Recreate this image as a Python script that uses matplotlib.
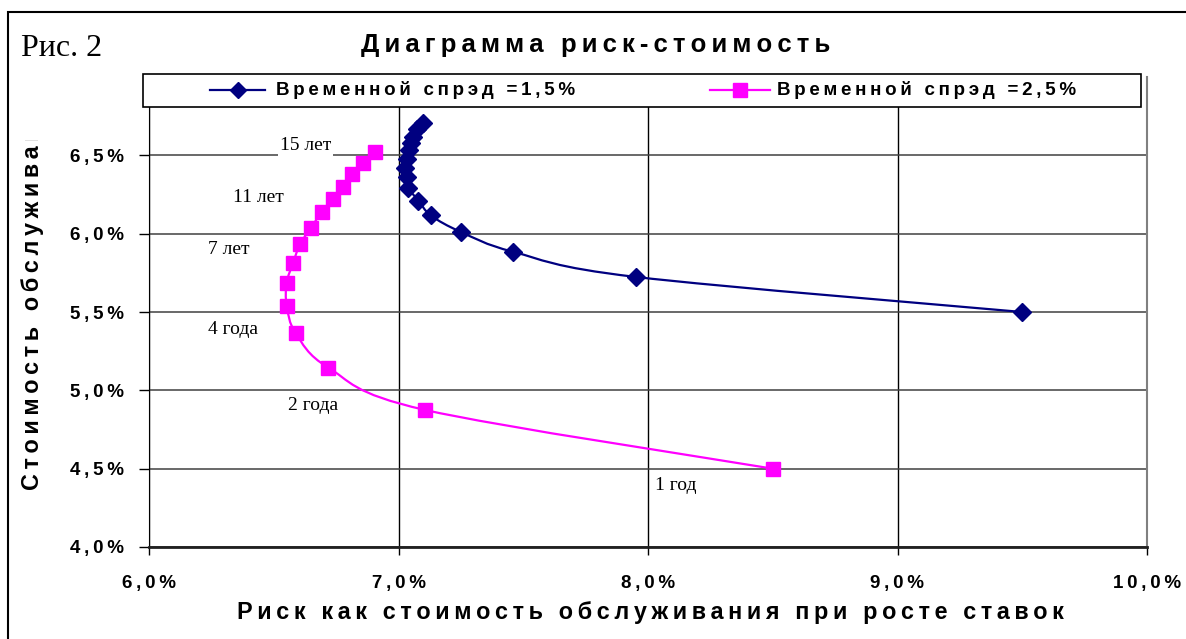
import matplotlib
matplotlib.use("Agg")
import matplotlib.pyplot as plt
from matplotlib.path import Path
from matplotlib.patches import PathPatch, Rectangle
from matplotlib.lines import Line2D
from matplotlib.transforms import Bbox, TransformedBbox

# Временной спрэд = 1,5% (годы 1..15)
risk_15 = [9.50, 7.95, 7.46, 7.25, 7.13, 7.08, 7.04, 7.035, 7.027, 7.035, 7.043, 7.049, 7.059, 7.075, 7.099]
cost_15 = [5.50, 5.724, 5.884, 6.011, 6.116, 6.211, 6.291, 6.361, 6.418, 6.476, 6.535, 6.578, 6.620, 6.667, 6.709]

# Временной спрэд = 2,5% (годы 1..15)
risk_25 = [8.50, 7.106, 6.719, 6.588, 6.552, 6.552, 6.578, 6.605, 6.649, 6.692, 6.736, 6.779, 6.815, 6.859, 6.906]
cost_25 = [4.50, 4.875, 5.145, 5.365, 5.539, 5.688, 5.815, 5.933, 6.035, 6.141, 6.220, 6.301, 6.382, 6.454, 6.524]

year_labels = ["1 год", "2 года", "4 года", "7 лет", "11 лет", "15 лет"]

xticks = [6.0, 7.0, 8.0, 9.0, 10.0]
xtick_labels = ["6,0%", "7,0%", "8,0%", "9,0%", "10,0%"]
yticks = [4.0, 4.5, 5.0, 5.5, 6.0, 6.5]
ytick_labels = ["4,0%", "4,5%", "5,0%", "5,5%", "6,0%", "6,5%"]

W, H = 1186, 639
SANS = ["Liberation Sans", "DejaVu Sans"]
SERIF = ["Liberation Serif", "DejaVu Serif"]
BLUE = "#000080"
PINK = "#ff00ff"


def px(x, y):
  return x / W, (H - y) / H


def spaced(s):
  # разреженный шрифт как в Excel
  return "\u2009".join(s)


def smooth_path(xs, ys):
  # сглаженная линия как в Excel (кривые Безье через точки)
  pts = list(zip(xs, ys))
  n = len(pts)
  verts = [pts[0]]
  codes = [Path.MOVETO]
  for i in range(n - 1):
    p0 = pts[i - 1] if i > 0 else pts[i]
    p1 = pts[i]
    p2 = pts[i + 1]
    p3 = pts[i + 2] if i + 2 < n else pts[i + 1]
    c1 = (p1[0] + (p2[0] - p0[0]) / 6, p1[1] + (p2[1] - p0[1]) / 6)
    c2 = (p2[0] - (p3[0] - p1[0]) / 6, p2[1] - (p3[1] - p1[1]) / 6)
    verts += [c1, c2, p2]
    codes += [Path.CURVE4] * 3
  return Path(verts, codes)


fig = plt.figure(figsize=(W / 100, H / 100), dpi=100)
fig.patch.set_facecolor("white")

l, t = 149, 77
r, b = 1147, 547
ax = fig.add_axes([l / W, (H - b) / H, (r - l) / W, (b - t) / H])

ax.set_xlim(6.0, 10.0)
ax.set_ylim(4.0, 7.0)
ax.set_xticks(xticks)
ax.set_yticks(yticks)
ax.set_xticklabels([spaced(s) for s in xtick_labels], fontfamily=SANS, fontweight="bold", fontsize=13.5)
ax.set_yticklabels([spaced(s) for s in ytick_labels], fontfamily=SANS, fontweight="bold", fontsize=13.5)
ax.tick_params(axis="x", direction="out", length=6, width=1, pad=14)
ax.tick_params(axis="y", direction="out", length=7, width=1, pad=11)

ax.grid(True, axis="x", color="black", linewidth=1)
ax.grid(True, axis="y", color="#404040", linewidth=1.1)
ax.set_axisbelow(True)
ax.spines["left"].set_color("black")
ax.spines["bottom"].set_color("#202020")
ax.spines["bottom"].set_linewidth(2)
ax.spines["right"].set_color("#808080")
ax.spines["right"].set_linewidth(1.5)
ax.spines["top"].set_visible(False)

ax.add_patch(PathPatch(smooth_path(risk_15, cost_15), fill=False, edgecolor=BLUE, linewidth=1.6, zorder=3))
ax.plot(risk_15, cost_15, linestyle="none", marker="D", markersize=9, color=BLUE, zorder=4)

ax.add_patch(PathPatch(smooth_path(risk_25, cost_25), fill=False, edgecolor=PINK, linewidth=1.6, zorder=3))
ax.plot(risk_25, cost_25, linestyle="none", marker="s", markersize=9.5, color=PINK, zorder=4)

# подписи сроков
label_pos = [(655, 485), (288, 406), (208, 329), (208, 249), (233, 198), (280, 146)]
for txt, (x, y) in zip(year_labels, label_pos):
  fig.text(*px(x, y), txt, fontfamily=SERIF, fontsize=14, ha="left", va="center",
           bbox=dict(facecolor="white", edgecolor="none", pad=1.5), zorder=2)

# легенда
fig.add_artist(Rectangle(px(143, 107), (1141 - 143) / W, 33 / H, transform=fig.transFigure,
                         facecolor="white", edgecolor="black", linewidth=1.2, zorder=5))
fig.add_artist(Line2D([210 / W, 265 / W], [(H - 90) / H] * 2, color=BLUE, linewidth=1.6, zorder=6))
fig.add_artist(Line2D([238 / W], [(H - 90) / H], color=BLUE, marker="D", markersize=8.5, zorder=6))
fig.text(*px(276, 90), spaced("Временной спрэд =1,5%"), fontfamily=SANS, fontweight="bold",
         fontsize=13.5, ha="left", va="center", zorder=6)
fig.add_artist(Line2D([710 / W, 770 / W], [(H - 90) / H] * 2, color=PINK, linewidth=1.6, zorder=6))
fig.add_artist(Line2D([740 / W], [(H - 90) / H], color=PINK, marker="s", markersize=9.5, zorder=6))
fig.text(*px(777, 90), spaced("Временной спрэд =2,5%"), fontfamily=SANS, fontweight="bold",
         fontsize=13.5, ha="left", va="center", zorder=6)

# заголовок и подписи осей
fig.text(*px(596, 45), spaced("Диаграмма риск-стоимость"), fontfamily=SANS, fontweight="bold",
         fontsize=18.5, ha="center", va="center")
fig.text(*px(21, 49), "Рис. 2", fontfamily=SERIF, fontsize=23, ha="left", va="center")
fig.text(*px(650, 612), spaced("Риск как стоимость обслуживания при росте ставок"), fontfamily=SANS,
         fontweight="bold", fontsize=16.8, ha="center", va="center")
ylab = fig.text(*px(33, 490), spaced("Стоимость обслуживания"), fontfamily=SANS, fontweight="bold",
                fontsize=16.8, rotation=90, ha="center", va="bottom")
ylab.set_clip_box(TransformedBbox(Bbox([[0, 0], [1, (H - 140) / H]]), fig.transFigure))
ylab.set_clip_on(True)

# внешняя рамка
fig.add_artist(Rectangle(px(8, 700), 1.2, (700 - 12) / H, transform=fig.transFigure,
                         facecolor="none", edgecolor="black", linewidth=1.5, clip_on=False))

fig.savefig("out.png", dpi=100)
